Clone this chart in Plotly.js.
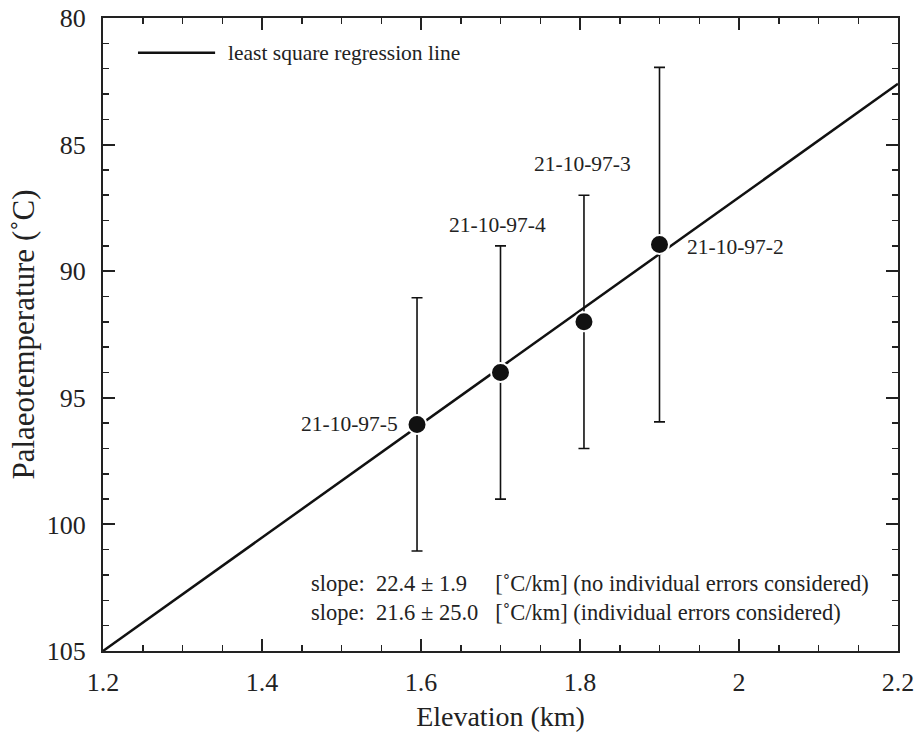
<!DOCTYPE html>
<html>
<head>
<meta charset="utf-8">
<script src="https://cdn.plot.ly/plotly-3.0.1.min.js"></script>
<style>
html,body{margin:0;padding:0;background:#fff;}
#chart{width:920px;height:738px;}
svg text{font-family:"Liberation Serif","Times New Roman",serif !important;}
</style>
</head>
<body>
<div id="chart"></div>
<script>
// Data
const sampleNames = ["21-10-97-5", "21-10-97-4", "21-10-97-3", "21-10-97-2"];
const elevation = [1.595, 1.700, 1.805, 1.900];
const palaeoTemp = [96.05, 94.0, 92.0, 88.95];
const tempError = [5.0, 5.0, 5.0, 7.0];
const regressionX = [1.2, 2.2];
const regressionY = [105.0, 82.6];
const slopeLines = [
  "slope:  22.4 ± 1.9     [˚C/km] (no individual errors considered)",
  "slope:  21.6 ± 25.0   [˚C/km] (individual errors considered)"
];
const legendLabel = "least square regression line";

const FONT = "Liberation Serif";
const INK = "#222";

const traces = [
  {
    x: regressionX, y: regressionY, mode: "lines", type: "scatter",
    line: {color: "#111", width: 2.5}, showlegend: false, hoverinfo: "skip"
  },
  {
    x: elevation, y: palaeoTemp, mode: "markers", type: "scatter",
    marker: {color: "#111", size: 19, line: {color: "#fff", width: 2}},
    error_y: {type: "data", array: tempError, visible: true, color: "#111", thickness: 1.6, width: 5.5},
    showlegend: false
  }
];

const labelCfg = [
  {xanchor: "right", xshift: -17, yshift: 0, ref: "point"},
  {xanchor: "center", xshift: -3, yshift: 21, ref: "top"},
  {xanchor: "center", xshift: -1, yshift: 31, ref: "top"},
  {xanchor: "left", xshift: 25, yshift: -2, ref: "point"}
];

const annotations = sampleNames.map((n, i) => ({
  x: elevation[i],
  y: labelCfg[i].ref === "top" ? palaeoTemp[i] - tempError[i] : palaeoTemp[i],
  xref: "x", yref: "y", text: n, showarrow: false,
  xanchor: labelCfg[i].xanchor, yanchor: "middle",
  xshift: labelCfg[i].xshift, yshift: labelCfg[i].yshift,
  font: {size: 21.5, color: INK}
}));

slopeLines.forEach((t, i) => {
  annotations.push({
    x: 0.259, y: 0.107 - i * 0.046, xref: "paper", yref: "paper",
    text: t, showarrow: false, xanchor: "left", yanchor: "middle",
    font: {size: 22.5, color: INK}
  });
});

annotations.push({
  x: 0.155, y: 0.945, xref: "paper", yref: "paper", text: legendLabel,
  showarrow: false, xanchor: "left", yanchor: "middle",
  font: {size: 21.5, color: INK}
});

const layout = {
  width: 920, height: 738,
  margin: {l: 103, r: 22, t: 18, b: 87},
  paper_bgcolor: "#fff", plot_bgcolor: "#fff",
  font: {family: FONT, color: INK, size: 21},
  showlegend: false,
  xaxis: {
    range: [1.2, 2.2], dtick: 0.2, tick0: 1.2,
    ticks: "inside", ticklen: 12, tickwidth: 2, tickcolor: INK,
    minor: {dtick: 0.05, ticks: "inside", ticklen: 6, tickwidth: 1.5, tickcolor: INK},
    showline: true, linecolor: INK, linewidth: 2, mirror: "allticks",
    showgrid: false, zeroline: false,
    tickfont: {size: 26, color: INK},
    ticklabelstandoff: 7,
    title: {text: "Elevation (km)", font: {size: 28, color: INK}, standoff: 10}
  },
  yaxis: {
    range: [105, 80], dtick: 5, tick0: 80,
    ticks: "inside", ticklen: 12, tickwidth: 2, tickcolor: INK,
    minor: {dtick: 1, ticks: "inside", ticklen: 6, tickwidth: 1.5, tickcolor: INK},
    showline: true, linecolor: INK, linewidth: 2, mirror: "allticks",
    showgrid: false, zeroline: false,
    tickfont: {size: 26, color: INK},
    ticklabelstandoff: 10,
    title: {text: "Palaeotemperature (˚C)", font: {size: 31, color: INK}, standoff: 3}
  },
  shapes: [
    {type: "line", xref: "paper", yref: "paper", x0: 0.044, x1: 0.141, y0: 0.945, y1: 0.945,
     line: {color: "#111", width: 2.5}}
  ],
  annotations: annotations
};

Plotly.newPlot("chart", traces, layout, {displayModeBar: false, staticPlot: true});
</script>
</body>
</html>
